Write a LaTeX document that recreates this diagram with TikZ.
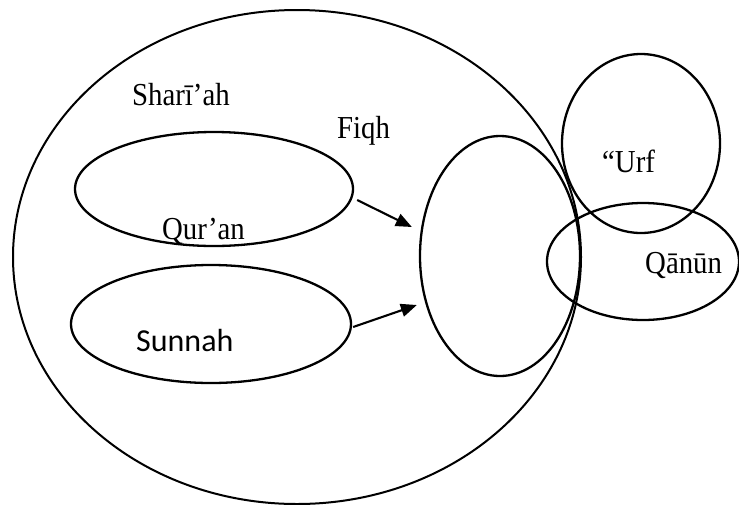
\documentclass[tikz,border=0pt]{standalone}
\usepackage{fontspec}
\setmainfont{Liberation Serif}[FakeStretch=0.9]
\newfontfamily\calib{Carlito}
\usetikzlibrary{shapes.geometric,arrows.meta}
\begin{document}
\begin{tikzpicture}[x=1pt,y=-1pt,
  ell/.style={draw,ellipse,inner sep=0pt,line width=2.3pt},
  lbl/.style={anchor=base west,inner sep=0pt,font=\fontsize{32}{38}\selectfont},
  arr/.style={-{Triangle[length=16pt,width=13pt]},line width=2.1pt}]
\useasboundingbox (0,0) rectangle (739,504);
\node[ell,line width=2pt,minimum width=568pt,minimum height=494pt] (shariah) at (297,257) {};
\node[ell,minimum width=278pt,minimum height=114pt] (quran) at (214,189) {};
\node[ell,minimum width=280pt,minimum height=118pt] (sunnah) at (211,324) {};
\node[ell,minimum width=160pt,minimum height=240pt] (fiqh) at (500,256) {};
\node[ell,minimum width=158pt,minimum height=179pt] (urf) at (641,143.5) {};
\node[ell,minimum width=192pt,minimum height=117pt] (qanun) at (643,261.5) {};
\node[lbl] (tshariah) at (132,105) {Sharī’ah};
\node[lbl] (tfiqh) at (337,138) {Fiqh};
\node[lbl] (tquran) at (162,239) {Qur’an};
\node[lbl,font=\fontsize{32}{38}\calib] (tsunnah) at (136,351) {Sunnah};
\node[lbl] (turf) at (602,172) {“Urf};
\node[lbl] (tqanun) at (645,273) {Qānūn};
\draw[arr] ([shift={(3,11)}]quran.east) -- ([shift={(-7,-29)}]fiqh.west);
\draw[arr] ([shift={(1,3)}]sunnah.east) -- ([shift={(-2,49)}]fiqh.west);
\end{tikzpicture}
\end{document}
